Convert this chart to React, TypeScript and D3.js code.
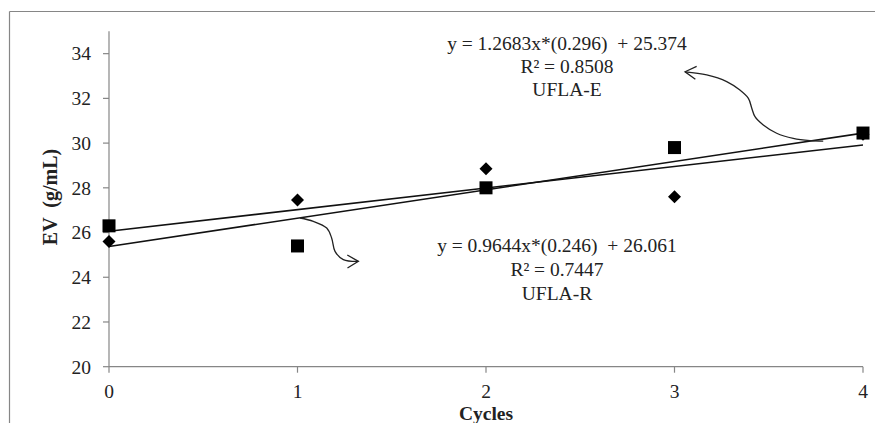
import React from "react";
import * as d3 from "d3";

// ---- data ----
const cycles = [0, 1, 2, 3, 4];
const uflaE = [26.3, 25.4, 28.0, 29.8, 30.45]; // squares
const uflaR = [25.6, 27.45, 28.85, 27.6, 30.4]; // diamonds
const yTicks = [20, 22, 24, 26, 28, 30, 32, 34];
const xTicks = [0, 1, 2, 3, 4];

const trendE = { slope: 1.2683, intercept: 25.374 };
const trendR = { slope: 0.9644, intercept: 26.061 };

const labelE = ["y = 1.2683x*(0.296)  + 25.374", "R² = 0.8508", "UFLA-E"];
const labelR = ["y = 0.9644x*(0.246)  + 26.061", "R² = 0.7447", "UFLA-R"];

// annotation arrows in data units [cycle, value]
const arrowE: [number, number][] = [
  [3.789, 30.09], [3.719, 30.11], [3.63, 30.21], [3.542, 30.44],
  [3.471, 30.81], [3.427, 31.18], [3.41, 31.56], [3.392, 32.0],
  [3.347, 32.37], [3.277, 32.75], [3.171, 33.05], [3.056, 33.19],
];
const arrowR: [number, number][] = [
  [1.013, 26.65], [1.084, 26.5], [1.155, 26.2], [1.181, 25.76],
  [1.199, 25.16], [1.243, 24.79], [1.323, 24.71],
];

const W = 875;
const H = 423;
const FONT = "'Liberation Serif', 'Times New Roman', serif";
const AXIS = "#868686";

export default function App() {
  const x = d3.scaleLinear().domain([0, 4]).range([109, 863]);
  const y = d3.scaleLinear().domain([20, 35]).range([366.7, 31.3]);

  const trendPath = (t: { slope: number; intercept: number }) =>
    d3.line<number>()
      .x((c) => x(c))
      .y((c) => y(t.intercept + t.slope * c))([0, 4]) || "";

  const arrowLine = d3.line<[number, number]>()
    .x((d) => x(d[0]))
    .y((d) => y(d[1]))
    .curve(d3.curveCatmullRom.alpha(0.5));

  const sq = 13;
  const dm = 6.5;

  return (
    <svg
      width={W}
      height={H}
      style={{ position: "absolute", left: 0, top: 0, background: "#fff" }}
      fontFamily={FONT}
    >
      <defs>
        <marker
          id="open-arrow"
          markerUnits="userSpaceOnUse"
          markerWidth={30}
          markerHeight={30}
          refX={0}
          refY={0}
          viewBox="-15 -15 30 30"
          orient="auto"
        >
          <path d="M -11 -6.5 L 0 0 L -11 6.5" fill="none" stroke="#222" strokeWidth={1.3} />
        </marker>
      </defs>
      <rect x={0} y={0} width={W} height={H} fill="#fff" />
      {/* outer border */}
      <line x1={9.5} y1={11.5} x2={W} y2={11.5} stroke={AXIS} strokeWidth={1.2} />
      <line x1={9.5} y1={11.5} x2={9.5} y2={H} stroke={AXIS} strokeWidth={1.2} />

      {/* axes */}
      <line x1={x(0)} y1={y(35)} x2={x(0)} y2={y(20)} stroke={AXIS} strokeWidth={1.2} />
      <line x1={x(0)} y1={y(20)} x2={x(4)} y2={y(20)} stroke={AXIS} strokeWidth={1.2} />
      {yTicks.map((t) => (
        <g key={"y" + t}>
          <line x1={x(0) - 6} x2={x(0)} y1={y(t)} y2={y(t)} stroke={AXIS} strokeWidth={1.2} />
          <text x={91} y={y(t)} dy="0.35em" textAnchor="end" fontSize={19.5} fill="#222">
            {t}
          </text>
        </g>
      ))}
      {xTicks.map((t) => (
        <g key={"x" + t}>
          <line x1={x(t)} x2={x(t)} y1={y(20)} y2={y(20) + 6} stroke={AXIS} strokeWidth={1.2} />
          <text x={x(t)} y={391} dy="0.35em" textAnchor="middle" fontSize={19.5} fill="#222">
            {t}
          </text>
        </g>
      ))}

      {/* axis titles */}
      <text
        transform={`translate(50,197) rotate(-90)`}
        textAnchor="middle"
        dy="0.35em"
        fontSize={20}
        fontWeight="bold"
        fill="#222"
        style={{ whiteSpace: "pre" }}
      >
        EV  (g/mL)
      </text>
      <text x={486} y={413} dy="0.35em" textAnchor="middle" fontSize={19.5} fontWeight="bold" fill="#222">
        Cycles
      </text>

      {/* trend lines */}
      <path d={trendPath(trendR)} fill="none" stroke="#111" strokeWidth={1.6} />
      <path d={trendPath(trendE)} fill="none" stroke="#111" strokeWidth={1.6} />

      {/* diamonds */}
      {uflaR.map((v, i) => {
        const cx = x(cycles[i]);
        const cy = y(v);
        return (
          <path
            key={"d" + i}
            d={`M ${cx} ${cy - dm} L ${cx + dm} ${cy} L ${cx} ${cy + dm} L ${cx - dm} ${cy} Z`}
            fill="#000"
          />
        );
      })}
      {/* squares */}
      {uflaE.map((v, i) => (
        <rect key={"s" + i} x={x(cycles[i]) - sq / 2} y={y(v) - sq / 2} width={sq} height={sq} fill="#000" />
      ))}

      {/* arrows */}
      <path d={arrowLine(arrowE) || ""} fill="none" stroke="#222" strokeWidth={1.3} markerEnd="url(#open-arrow)" />
      <path d={arrowLine(arrowR) || ""} fill="none" stroke="#222" strokeWidth={1.3} markerEnd="url(#open-arrow)" />

      {/* equation labels */}
      {labelE.map((s, i) => (
        <text
          key={"le" + i}
          x={567}
          y={43 + i * 23}
          dy="0.35em"
          textAnchor="middle"
          fontSize={19.5}
          fill="#222"
          style={{ whiteSpace: "pre" }}
        >
          {s}
        </text>
      ))}
      {labelR.map((s, i) => (
        <text
          key={"lr" + i}
          x={557}
          y={245 + i * 24}
          dy="0.35em"
          textAnchor="middle"
          fontSize={19.5}
          fill="#222"
          style={{ whiteSpace: "pre" }}
        >
          {s}
        </text>
      ))}
    </svg>
  );
}
